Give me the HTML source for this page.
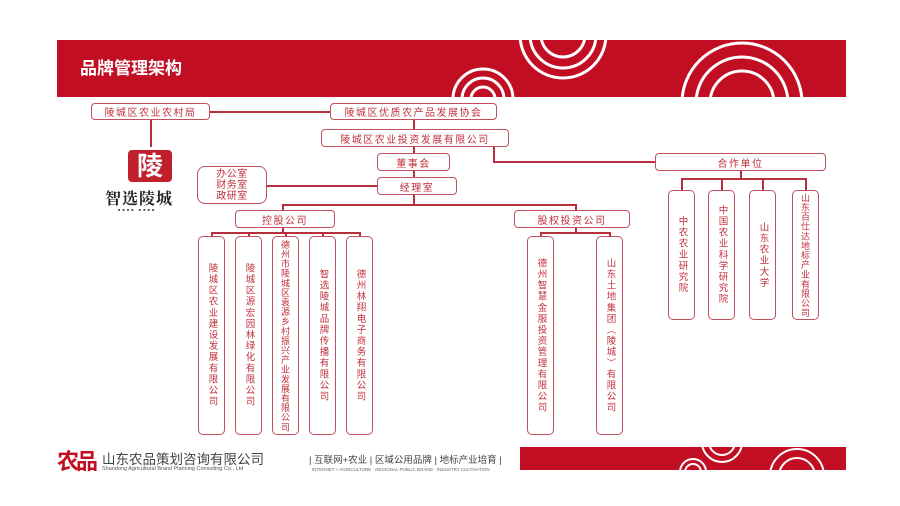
<!DOCTYPE html>
<html><head><meta charset="utf-8"><style>
body{margin:0;width:900px;height:506px;background:#fff;position:relative;overflow:hidden;font-family:"Liberation Sans","Noto Sans CJK SC",sans-serif}
.b{position:absolute;border:1.3px solid #c0505c;border-radius:4px;box-sizing:border-box;color:#c0303c;font-size:10px;display:flex;align-items:center;justify-content:center;letter-spacing:1.5px;background:#fff}
.v{writing-mode:vertical-rl;font-size:9.5px;letter-spacing:1.6px;border-radius:5px}
.l{position:absolute;background:#b83040}
</style></head><body>
<svg style="position:absolute;left:0;top:0" width="900" height="506">
<defs><clipPath id="h"><rect x="57" y="40" width="789" height="57"/></clipPath>
<clipPath id="f"><rect x="520" y="447" width="326" height="23"/></clipPath></defs>
<rect x="57" y="40" width="789" height="57" fill="#c20e23"/>
<g clip-path="url(#h)" fill="none" stroke="#fff" stroke-width="3">
<circle cx="563" cy="35" r="43"/><circle cx="563" cy="35" r="33"/><circle cx="563" cy="35" r="22"/>
<circle cx="483" cy="99" r="30"/><circle cx="483" cy="99" r="21"/><circle cx="483" cy="99" r="12"/>
<circle cx="742" cy="103" r="60"/><circle cx="742" cy="103" r="46"/><circle cx="742" cy="103" r="32"/>
</g>
<rect x="520" y="447" width="326" height="23" fill="#c20e23"/>
<g clip-path="url(#f)" fill="none" stroke="#fff" stroke-width="2">
<circle cx="722" cy="442" r="20"/><circle cx="722" cy="442" r="13"/>
<circle cx="693" cy="472" r="13"/><circle cx="693" cy="472" r="8"/>
<circle cx="797" cy="476" r="27"/><circle cx="797" cy="476" r="18"/>
</g>
<text x="80" y="74" font-size="17" font-weight="bold" fill="#fff" font-family="Liberation Sans,Noto Sans CJK SC,sans-serif">品牌管理架构</text>
</svg>
<div class="l" style="left:210px;top:111px;width:120px;height:1.5px"></div>
<div class="l" style="left:150px;top:120px;width:1.5px;height:27px"></div>
<div class="l" style="left:413px;top:120px;width:1.5px;height:9px"></div>
<div class="l" style="left:413px;top:147px;width:1.5px;height:58px"></div>
<div class="l" style="left:267px;top:185px;width:110px;height:1.5px"></div>
<div class="l" style="left:493px;top:147px;width:1.5px;height:15px"></div>
<div class="l" style="left:493px;top:161px;width:162px;height:1.5px"></div>
<div class="l" style="left:282px;top:204px;width:294px;height:1.5px"></div>
<div class="l" style="left:282px;top:204px;width:1.5px;height:6px"></div>
<div class="l" style="left:575px;top:204px;width:1.5px;height:6px"></div>
<div class="l" style="left:282px;top:228px;width:1.5px;height:4px"></div>
<div class="l" style="left:211px;top:232px;width:149px;height:1.5px"></div>
<div class="l" style="left:211px;top:232px;width:1.5px;height:4px"></div>
<div class="l" style="left:248px;top:232px;width:1.5px;height:4px"></div>
<div class="l" style="left:285px;top:232px;width:1.5px;height:4px"></div>
<div class="l" style="left:322px;top:232px;width:1.5px;height:4px"></div>
<div class="l" style="left:359px;top:232px;width:1.5px;height:4px"></div>
<div class="l" style="left:575px;top:228px;width:1.5px;height:4px"></div>
<div class="l" style="left:540px;top:232px;width:70px;height:1.5px"></div>
<div class="l" style="left:540px;top:232px;width:1.5px;height:4px"></div>
<div class="l" style="left:609px;top:232px;width:1.5px;height:4px"></div>
<div class="l" style="left:740px;top:171px;width:1.5px;height:7px"></div>
<div class="l" style="left:681px;top:178px;width:126px;height:1.5px"></div>
<div class="l" style="left:681px;top:178px;width:1.5px;height:12px"></div>
<div class="l" style="left:721px;top:178px;width:1.5px;height:12px"></div>
<div class="l" style="left:762px;top:178px;width:1.5px;height:12px"></div>
<div class="l" style="left:805px;top:178px;width:1.5px;height:12px"></div>
<div class="b" style="left:91px;top:103px;width:119px;height:17px">陵城区农业农村局</div>
<div class="b" style="left:330px;top:103px;width:167px;height:17px">陵城区优质农产品发展协会</div>
<div class="b" style="left:321px;top:129px;width:188px;height:18px">陵城区农业投资发展有限公司</div>
<div class="b" style="left:377px;top:153px;width:73px;height:18px">董事会</div>
<div class="b" style="left:377px;top:177px;width:80px;height:18px">经理室</div>
<div class="b" style="left:197px;top:166px;width:70px;height:38px;line-height:11px;text-align:center;border-radius:8px;letter-spacing:0.5px">办公室<br>财务室<br>政研室</div>
<div class="b" style="left:235px;top:210px;width:100px;height:18px">控股公司</div>
<div class="b" style="left:514px;top:210px;width:116px;height:18px">股权投资公司</div>
<div class="b" style="left:655px;top:153px;width:171px;height:18px">合作单位</div>
<div class="b v" style="left:198px;top:236px;width:27px;height:199px">陵城区农业建设发展有限公司</div>
<div class="b v" style="left:235px;top:236px;width:27px;height:199px">陵城区源宏园林绿化有限公司</div>
<div class="b v" style="left:272px;top:236px;width:27px;height:199px;font-size:9px;letter-spacing:0.6px">德州市陵城区袁源乡村振兴产业发展有限公司</div>
<div class="b v" style="left:309px;top:236px;width:27px;height:199px">智选陵城品牌传播有限公司</div>
<div class="b v" style="left:346px;top:236px;width:27px;height:199px">德州林翔电子商务有限公司</div>
<div class="b v" style="left:527px;top:236px;width:27px;height:199px">德州智慧金服投资管理有限公司</div>
<div class="b v" style="left:596px;top:236px;width:27px;height:199px">山东土地集团（陵城）有限公司</div>
<div class="b v" style="left:668px;top:190px;width:27px;height:130px">中农农业研究院</div>
<div class="b v" style="left:708px;top:190px;width:27px;height:130px">中国农业科学研究院</div>
<div class="b v" style="left:749px;top:190px;width:27px;height:130px">山东农业大学</div>
<div class="b v" style="left:792px;top:190px;width:27px;height:130px;font-size:9px;letter-spacing:0.6px">山东百仕达地标产业有限公司</div>
<div style="position:absolute;left:128px;top:150px;width:44px;height:32px;background:#c0202c;border-radius:4px;color:#fff;font-size:26px;font-weight:bold;line-height:32px;text-align:center">陵</div>
<div style="position:absolute;left:105px;top:186px;font-size:16px;font-weight:bold;color:#222;letter-spacing:1px;font-family:'Noto Serif CJK SC',serif">智选陵城</div>
<div style="position:absolute;left:118px;top:207px;font-size:4px;color:#555;letter-spacing:2px">■■■■ ■■■■</div>
<div style="position:absolute;left:57px;top:444px;font-size:22px;font-weight:bold;color:#c20e23;letter-spacing:-3px">农品</div>
<div style="position:absolute;left:102px;top:448px;font-size:13.5px;color:#444">山东农品策划咨询有限公司</div>
<div style="position:absolute;left:102px;top:466px;font-size:5.5px;color:#555">Shandong Agricultural Brand Planning Consulting Co., Ltd</div>
<div style="position:absolute;left:309px;top:452px;font-size:9.5px;color:#444">| 互联网+农业 | 区域公用品牌 | 地标产业培育 |</div>
<div style="position:absolute;left:312px;top:467px;font-size:4.5px;color:#666">INTERNET + AGRICULTURE · REGIONAL PUBLIC BRAND · INDUSTRY CULTIVATION</div>
</body></html>
